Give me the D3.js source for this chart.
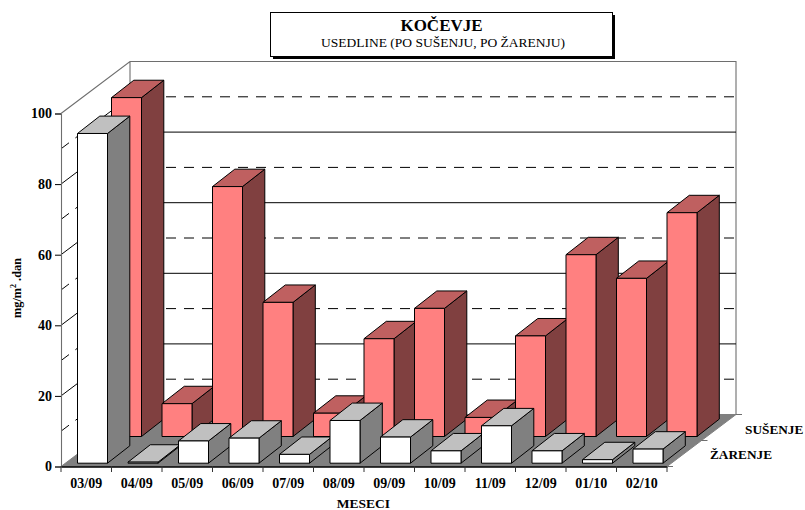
<!DOCTYPE html>
<html><head><meta charset="utf-8">
<script src="https://cdn.jsdelivr.net/npm/d3@7/dist/d3.min.js"></script>
<style>
html,body{margin:0;padding:0;background:#fff}
svg{display:block}
text{font-family:"Liberation Serif","Times New Roman",serif;fill:#000}
</style></head><body>
<svg id="c" width="805" height="510"></svg>
<script>
const months=["03/09","04/09","05/09","06/09","07/09","08/09","09/09","10/09","11/09","12/09","01/10","02/10"];
const susenje=[96,9.3,70.8,38,6.6,27.7,36.3,5.4,28.5,51.5,44.8,63.4];
const zarenje=[93.4,0.3,6.3,7.1,2.5,12.1,7.4,3.5,10.6,3.5,1,4];
const yTicks=[0,20,40,60,80,100];
const gridValues=[10,20,30,40,50,60,70,80,90];
const seriesNames=["SUŠENJE","ŽARENJE"];
const title="KOČEVJE", subtitle="USEDLINE (PO SUŠENJU, PO ŽARENJU)";

const svg=d3.select("#c");
const x=d3.scaleBand().domain(months).range([61,667]).padding(0);
const y=d3.scaleLinear().domain([0,100]).range([466.5,113.5]);
const dx=69,dy=-52;           // depth of the whole floor
const barW=30,bdx=22.3,bdy=-17.4;

// floor
const poly=p=>p.map(a=>a.join(",")).join(" ");
svg.append("polygon").attr("points",poly([[61,y(0)],[667,y(0)],[667+dx,y(0)+dy],[61+dx,y(0)+dy]]))
  .attr("fill","#808080").attr("stroke","#808080");

// wall outline
const gray="#6e6e6e";
svg.append("path").attr("fill","none").attr("stroke",gray).attr("stroke-width",1.1)
  .attr("d",`M61,${y(100)}L${61+dx},${y(100)+dy}H${667+dx}V${y(0)+dy}M${61+dx},${y(100)+dy}V${y(0)+dy}`);

// grid lines
gridValues.forEach(v=>{
  const solid=v%20===0, yy=y(v);
  svg.append("path").attr("fill","none").attr("stroke","#000").attr("stroke-width",1)
    .attr("stroke-dasharray",solid?null:"10,8")
    .attr("d",`M61,${yy}L${61+dx},${yy+dy}`);
  svg.append("line").attr("x1",61+dx).attr("x2",667+dx).attr("y1",yy+dy).attr("y2",yy+dy)
    .attr("stroke","#000").attr("stroke-width",1)
    .attr("stroke-dasharray",solid?null:"10,8");
});

// bars
function bars(vals,xOff,baseUp,front,top,side){
  const g=svg.append("g").attr("stroke","#000").attr("stroke-width",1).attr("stroke-linejoin","round");
  vals.forEach((v,i)=>{
    const x0=x(months[i])+xOff, x1=x0+barW, b=y(0)-baseUp, t=b-(y(0)-y(v));
    g.append("polygon").attr("fill",side)
      .attr("points",poly([[x1,b],[x1+bdx,b+bdy],[x1+bdx,t+bdy],[x1,t]]));
    g.append("polygon").attr("fill",top)
      .attr("points",poly([[x0,t],[x1,t],[x1+bdx,t+bdy],[x0+bdx,t+bdy]]));
    g.append("rect").attr("fill",front).attr("x",x0).attr("y",t).attr("width",barW).attr("height",b-t);
  });
}
bars(susenje,50.5,30,"#ff8080","#bf6060","#804040");
bars(zarenje,16.5,3.3,"#ffffff","#c0c0c0","#808080");

// axes
const ya=svg.append("g").attr("transform","translate(61,0)")
  .call(d3.axisLeft(y).tickValues(yTicks).tickSize(6).tickPadding(3).tickFormat(d3.format("d")));
ya.select(".domain").attr("stroke",gray).attr("stroke-width",1.1);
ya.selectAll(".tick line").attr("stroke","#000");
ya.selectAll("text").attr("font-family",'"Liberation Serif"').attr("font-weight","bold").attr("font-size",14).attr("fill","#000");

const xa=svg.append("g").attr("transform","translate(0,466.5)")
  .call(d3.axisBottom(x).tickSize(0).tickPadding(12));
xa.select(".domain").attr("stroke","#000").attr("stroke-width",1.3);
xa.selectAll("text").attr("font-family",'"Liberation Serif"').attr("font-weight","bold").attr("font-size",14).attr("fill","#000");
svg.append("g").selectAll("line").data(months.concat(["end"])).join("line")
  .attr("x1",(d,i)=>61+i*x.step()).attr("x2",(d,i)=>61+i*x.step())
  .attr("y1",466).attr("y2",472).attr("stroke","#333");

// depth ticks on the floor edge
[0,.5,1].forEach(f=>{
  const px=667+dx*f,py=y(0)+dy*f;
  svg.append("line").attr("x1",px).attr("x2",px+6).attr("y1",py).attr("y2",py).attr("stroke",gray);
});

// series labels
svg.append("text").attr("x",745).attr("y",434).attr("font-weight","bold").attr("font-size",13.3).text(seriesNames[0]);
svg.append("text").attr("x",710).attr("y",459).attr("font-weight","bold").attr("font-size",13.3).text(seriesNames[1]);

// axis titles
svg.append("text").attr("x",363.5).attr("y",508).attr("text-anchor","middle").attr("font-weight","bold").attr("font-size",13.5).text("MESECI");
const yl=svg.append("text").attr("transform","translate(21,288) rotate(-90)").attr("text-anchor","middle").attr("font-weight","bold").attr("font-size",12.3);
yl.append("tspan").text("mg/m");
yl.append("tspan").attr("dy",-5).attr("font-size",8).text("2");
yl.append("tspan").attr("dy",5).text(" .dan");

// title box
svg.append("rect").attr("x",273).attr("y",15).attr("width",342).attr("height",44).attr("fill","#000");
svg.append("rect").attr("x",270.5).attr("y",12.5).attr("width",342).attr("height",44).attr("fill","#fff").attr("stroke","#000");
svg.append("text").attr("x",441.5).attr("y",31).attr("text-anchor","middle").attr("font-weight","bold").attr("font-size",17).text(title);
svg.append("text").attr("x",443).attr("y",47).attr("text-anchor","middle").attr("font-size",13.5).text(subtitle);
</script>
</body></html>
